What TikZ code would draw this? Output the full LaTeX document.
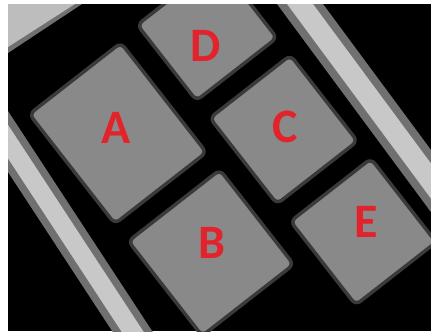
\documentclass[tikz,border=0pt]{standalone}
\usepackage{fontspec}
\newfontfamily\lblfont{Carlito}
\definecolor{padgrey}{HTML}{898989}
\definecolor{padedge}{HTML}{3A3A3A}
\definecolor{bandlight}{HTML}{C8C8C8}
\definecolor{bandedge}{HTML}{707070}
\definecolor{cornerlight}{HTML}{BDBDBD}
\definecolor{lblred}{HTML}{E3232C}
\tikzset{
  padshape/.style={fill=padgrey, draw=padedge, line width=3.5pt, rounded corners=6pt},
  padlabel/.style={text=lblred, font=\lblfont\bfseries\fontsize{48}{48}\selectfont, inner sep=0pt, anchor=center}
}
\newcommand\padquad[4]{\draw[padshape] (#1,#3) -- (#2,#3) -- (#2,#4) -- (#1,#4) -- cycle;}
\begin{document}
\begin{tikzpicture}[x=1pt,y=-1pt]
\useasboundingbox (0,0) rectangle (431,332);
\fill[white] (0,0) rectangle (431,332);
\begin{scope}
\clip (8,4) rectangle (431,331);
\fill[black] (8,4) rectangle (431,331);
% top-left light corner
\fill[bandedge] (8,4) -- (82,4) -- (8,53) -- cycle;
\fill[cornerlight] (8,4) -- (75,4) -- (8,47) -- cycle;
% right band
\fill[bandedge] (277,4) -- (323,4) -- (571.6,340) -- (525.6,340) -- cycle;
\fill[bandlight] (287,4) -- (313,4) -- (561.6,340) -- (535.6,340) -- cycle;
% lower-left band (centre x = 24 + 0.655 (y-166))
\fill[bandedge] (-72,50) -- (-32,50) -- (158,340) -- (118,340) -- cycle;
\fill[bandlight] (-63,50) -- (-41,50) -- (149,340) -- (127,340) -- cycle;
% pads, in the rotated frame of the grid
\begin{scope}[x={(0.789pt,0.615pt)}, y={(0.615pt,-0.789pt)}]
\padquad{-47}{69}{108}{247}   % A
\padquad{-47}{69}{269}{389}   % B
\padquad{93}{195}{104}{200}   % D
\padquad{93}{195}{222}{331}   % C
\padquad{93}{195}{353}{459}   % E
\end{scope}
\end{scope}
\node[padlabel] (la) at (116,128) {A};
\node[padlabel] (ld) at (206,46) {D};
\node[padlabel] (lc) at (285,127) {C};
\node[padlabel] (lb) at (212,243) {B};
\node[padlabel] (le) at (366,222) {E};
\end{tikzpicture}
\end{document}
